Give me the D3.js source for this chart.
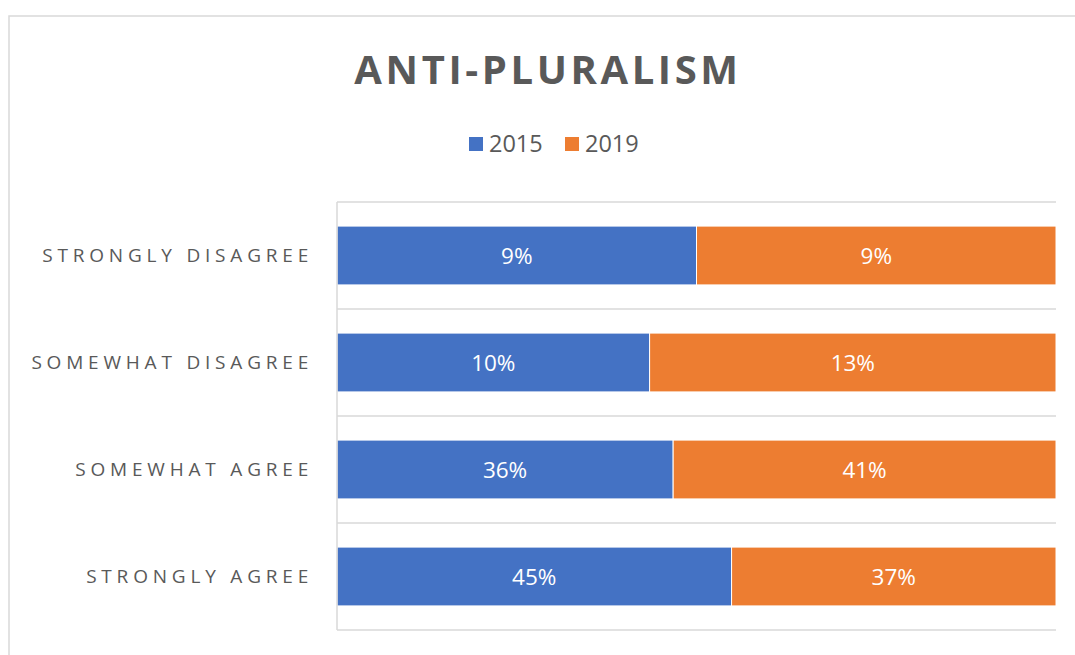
<!DOCTYPE html>
<html>
<head>
<meta charset="utf-8">
<script src="https://cdn.jsdelivr.net/npm/d3@7"></script>
<style>
  html, body { margin: 0; padding: 0; background: #ffffff; }
  svg { display: block; }
  text { font-family: "Open Sans", "Noto Sans", sans-serif; }
</style>
</head>
<body>
<svg id="chart" width="1075" height="655"></svg>
<script>
// Survey responses, top row first
const categories = ["STRONGLY DISAGREE", "SOMEWHAT DISAGREE", "SOMEWHAT AGREE", "STRONGLY AGREE"];
const seriesNames = ["2015", "2019"];
const values2015 = [9, 10, 36, 45];
const values2019 = [9, 13, 41, 37];
const seriesColors = ["#4472C4", "#ED7D31"];

const rows = categories.map((c, i) => ({ category: c, "2015": values2015[i], "2019": values2019[i] }));

const svg = d3.select("#chart");
const W = 1075, H = 655;
const plot = { left: 337, right: 1056, top: 202, bottom: 630 };

// chart frame
svg.append("rect")
  .attr("x", 9).attr("y", 16)
  .attr("width", W + 20).attr("height", H + 20)
  .attr("fill", "#ffffff")
  .attr("stroke", "#d9d9d9").attr("stroke-width", 1.5);

// title
svg.append("text")
  .attr("x", 548).attr("y", 84)
  .attr("text-anchor", "middle")
  .attr("font-size", 40).attr("font-weight", 700)
  .attr("letter-spacing", 3.6)
  .attr("fill", "#595959")
  .text("ANTI-PLURALISM");

// 100% stacked layout
const stack = d3.stack().keys(seriesNames).offset(d3.stackOffsetExpand);
const stacked = stack(rows);

const x = d3.scaleLinear().domain([0, 1]).range([plot.left, plot.right]);
const y = d3.scaleBand().domain(categories)
  .range([plot.top, plot.bottom])
  .paddingInner(0.45).paddingOuter(0.225);
const color = d3.scaleOrdinal().domain(seriesNames).range(seriesColors);

// category separators
const step = y.step();
const boundaries = d3.range(categories.length + 1).map(i => plot.top + i * step);
svg.append("g").selectAll("line").data(boundaries).join("line")
  .attr("x1", plot.left).attr("x2", plot.right)
  .attr("y1", d => d).attr("y2", d => d)
  .attr("stroke", "#d9d9d9").attr("stroke-width", 1.5);

// bars
const groups = svg.append("g").selectAll("g").data(stacked).join("g")
  .attr("fill", d => color(d.key));
groups.selectAll("rect").data(d => d).join("rect")
  .attr("x", d => x(d[0]))
  .attr("y", d => y(d.data.category))
  .attr("width", d => x(d[1]) - x(d[0]))
  .attr("height", y.bandwidth())
  .attr("stroke", "#ffffff").attr("stroke-width", 1);

// value labels
groups.each(function(s) {
  d3.select(this).selectAll("text").data(s).join("text")
    .attr("x", d => (x(d[0]) + x(d[1])) / 2)
    .attr("y", d => y(d.data.category) + y.bandwidth() / 2)
    .attr("dy", "0.38em")
    .attr("text-anchor", "middle")
    .attr("font-size", 22.5)
    .attr("fill", "#ffffff")
    .text(d => d.data[s.key] + "%");
});

// category axis
const yAxis = svg.append("g")
  .attr("transform", `translate(${plot.left},0)`)
  .call(d3.axisLeft(y).tickSize(0).tickPadding(24));
yAxis.select(".domain")
  .attr("stroke", "#d9d9d9").attr("stroke-width", 1.5)
  .attr("d", `M0,${plot.top}V${plot.bottom}`);
yAxis.selectAll(".tick text")
  .attr("font-family", "Open Sans")
  .attr("font-size", 19)
  .attr("letter-spacing", 4.8)
  .attr("fill", "#595959");

// legend
const legend = svg.append("g").attr("transform", "translate(469,144)");
const legendItems = legend.selectAll("g").data(seriesNames).join("g")
  .attr("transform", (d, i) => `translate(${i * 96},0)`);
legendItems.append("rect")
  .attr("x", 0).attr("y", -7).attr("width", 14).attr("height", 14)
  .attr("fill", d => color(d));
legendItems.append("text")
  .attr("x", 20).attr("y", 0).attr("dy", "0.36em")
  .attr("font-size", 23.5)
  .attr("fill", "#595959")
  .text(d => d);
</script>
</body>
</html>
